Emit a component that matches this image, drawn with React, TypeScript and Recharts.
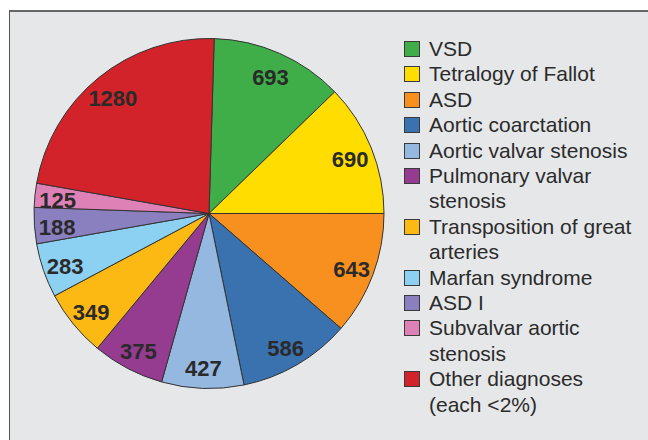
import { Cell, Legend, Pie, PieChart } from "recharts";

const categories = [
  "VSD",
  "Tetralogy of Fallot",
  "ASD",
  "Aortic coarctation",
  "Aortic valvar stenosis",
  "Pulmonary valvar stenosis",
  "Transposition of great arteries",
  "Marfan syndrome",
  "ASD I",
  "Subvalvar aortic stenosis",
  "Other diagnoses (each <2%)",
];

const counts = [693, 690, 643, 586, 427, 375, 349, 283, 188, 125, 1280];

const palette = [
  "#3fae49",
  "#ffdd00",
  "#f7901e",
  "#3a72b0",
  "#94b8e0",
  "#953b90",
  "#fdb913",
  "#8dd1f2",
  "#8a7fbf",
  "#de81b6",
  "#d2232b",
];

const data = categories.map((name, i) => ({ name, value: counts[i] }));

const RAD = Math.PI / 180;
const FONT = "'Liberation Sans', Arial, sans-serif";

function renderLabel(props: any) {
  const { cx, cy, midAngle, outerRadius, value } = props;
  const r = outerRadius * 0.87;
  const x = cx + r * Math.cos(-midAngle * RAD);
  const y = cy + r * Math.sin(-midAngle * RAD);
  return (
    <text
      x={x}
      y={y}
      dy={3}
      textAnchor="middle"
      dominantBaseline="central"
      fill="#2a2a2a"
      fontFamily={FONT}
      fontWeight="bold"
      fontSize={22}
    >
      {value}
    </text>
  );
}

function renderLegend() {
  return (
    <ul style={{ listStyle: "none", margin: 0, padding: 0, fontFamily: FONT, fontSize: 21, lineHeight: "25.4px", color: "#2b2b2b" }}>
      {categories.map((name, i) => (
        <li key={name} style={{ display: "flex", alignItems: "flex-start" }}>
          <span
            style={{
              flex: "0 0 auto",
              width: 14,
              height: 14,
              marginTop: 5,
              marginRight: 9,
              background: palette[i],
              border: "1.5px solid #3a3a3a",
            }}
          />
          <span style={{ width: 212 }}>{name}</span>
        </li>
      ))}
    </ul>
  );
}

export default function App() {
  return (
    <div
      style={{
        position: "fixed",
        left: 0,
        top: 0,
        width: 648,
        height: 440,
        background: "#fff",
        overflow: "hidden",
      }}
    >
      <div
        style={{
          position: "absolute",
          left: 9,
          top: 10,
          width: 660,
          height: 460,
          background: "#e6e7e9",
          borderTop: "2px solid #666",
          borderLeft: "1px solid #555",
        }}
      />
      <div style={{ position: "absolute", left: 8, top: 8 }}>
        <PieChart width={640} height={432} margin={{ top: 0, right: 0, bottom: 0, left: 0 }}>
          <Pie
            data={data}
            dataKey="value"
            nameKey="name"
            cx={201}
            cy={205.5}
            outerRadius={175}
            startAngle={88.3}
            endAngle={-271.7}
            stroke="#333"
            strokeWidth={1}
            label={renderLabel}
            labelLine={false}
            isAnimationActive={false}
          >
            {data.map((d, i) => (
              <Cell key={d.name} fill={palette[i]} />
            ))}
          </Pie>
          <Legend
            layout="vertical"
            align="right"
            verticalAlign="top"
            content={renderLegend}
            wrapperStyle={{ position: "absolute", left: 396, top: 28, width: 240 }}
          />
        </PieChart>
      </div>
    </div>
  );
}
